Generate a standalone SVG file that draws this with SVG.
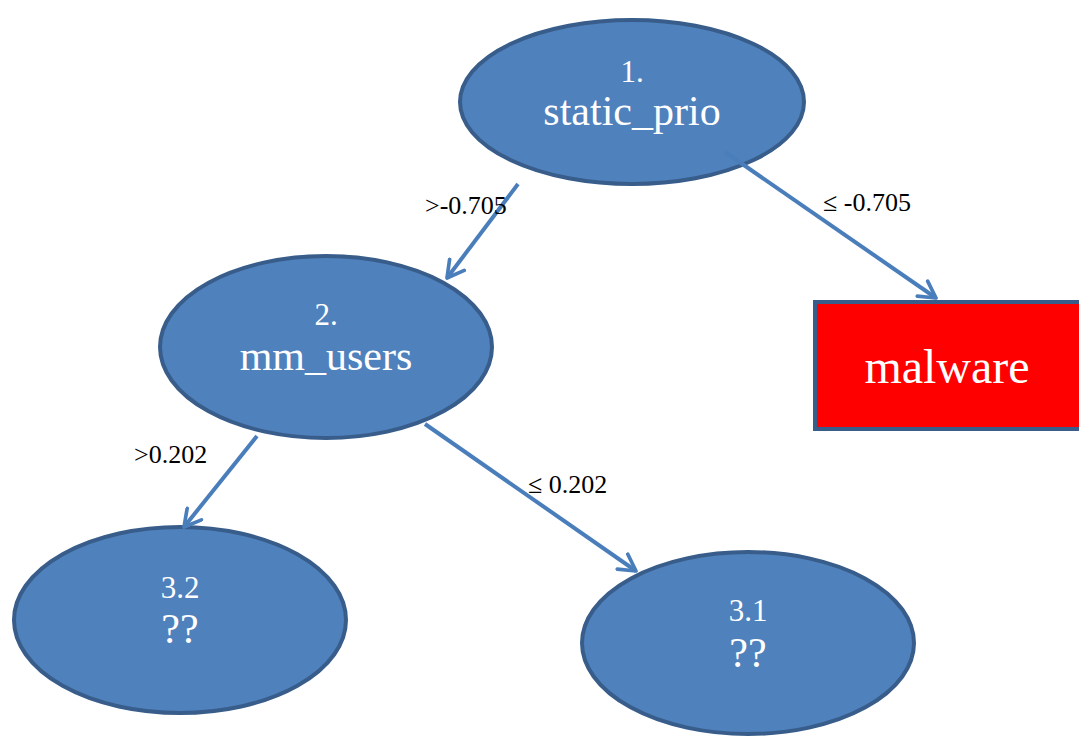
<svg xmlns="http://www.w3.org/2000/svg" width="1079" height="736" viewBox="0 0 1079 736">
<style>
.node{fill:#4f81bd;stroke:#385d8a;stroke-width:4}
.t{font-family:'Liberation Serif','DejaVu Serif',serif;fill:#fff;text-anchor:middle}
.s{font-size:31px}
.b{font-size:42px}
.lab{font-family:'Liberation Serif','DejaVu Serif',serif;font-size:26px;fill:#000}
.edge{stroke:#4a7ebb;stroke-width:4;fill:none;marker-end:url(#ah)}
</style>
<defs>
<marker id="ah" viewBox="0 0 12 12" refX="10" refY="6" markerWidth="5.5" markerHeight="5.5" markerUnits="strokeWidth" orient="auto">
<path d="M1,1 L10,6 L1,11" fill="none" stroke="#4a7ebb" stroke-width="2" stroke-linecap="round" stroke-linejoin="round"/>
</marker>
</defs>
<rect width="1079" height="736" fill="#fff"/>
<g id="n1">
<ellipse class="node" cx="632" cy="102" rx="172" ry="82"/>
<text class="t s" x="632" y="82">1.</text>
<text class="t b" x="632" y="125">static_prio</text>
</g>
<g id="n2">
<ellipse class="node" cx="326" cy="347" rx="166" ry="91"/>
<text class="t s" x="326" y="325">2.</text>
<text class="t b" x="326" y="370">mm_users</text>
</g>
<g id="n32">
<ellipse class="node" cx="180" cy="620" rx="166" ry="93"/>
<text class="t s" x="180" y="598">3.2</text>
<text class="t b" x="180" y="643">??</text>
</g>
<g id="n31">
<ellipse class="node" cx="748" cy="643" rx="166" ry="91"/>
<text class="t s" x="748" y="621">3.1</text>
<text class="t b" x="748" y="667">??</text>
</g>
<g id="malware">
<rect x="815" y="302" width="266" height="127" fill="#ff0000" stroke="#385d8a" stroke-width="4"/>
<text class="t" x="947" y="383" font-size="48">malware</text>
</g>
<g id="edges">
<line class="edge" x1="518" y1="184" x2="447" y2="278"/>
<line class="edge" x1="725" y1="152" x2="936" y2="298"/>
<line class="edge" x1="257" y1="436" x2="184" y2="527"/>
<line class="edge" x1="425" y1="424" x2="636" y2="571"/>
<text class="lab" x="425" y="214">&gt;-0.705</text>
<text class="lab" x="823" y="211">≤ -0.705</text>
<text class="lab" x="134" y="463">&gt;0.202</text>
<text class="lab" x="528" y="493">≤ 0.202</text>
</g>
</svg>
